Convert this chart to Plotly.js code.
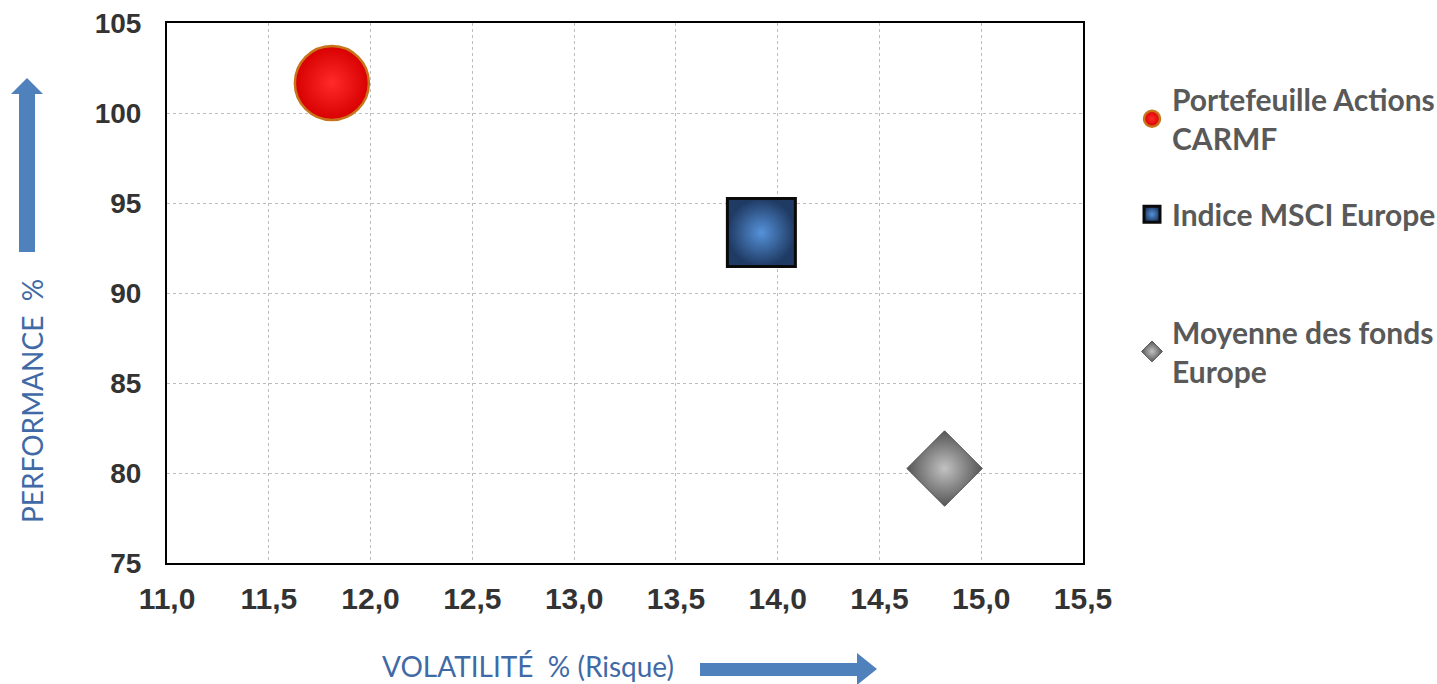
<!DOCTYPE html>
<html>
<head>
<meta charset="utf-8">
<script src="https://cdn.plot.ly/plotly-3.0.1.min.js"></script>
<style>html,body{margin:0;padding:0;background:#fff;}#chart{width:1437px;height:684px;}</style>
</head>
<body>
<div id="chart"></div>
<script>
// Data
const seriesNames = ["Portefeuille Actions<br>CARMF", "Indice MSCI Europe", "Moyenne des fonds<br>Europe"];
const volatility = [11.81, 13.92, 14.82];
const performance = [101.67, 93.36, 80.25];
const xTickVals = [11.0, 11.5, 12.0, 12.5, 13.0, 13.5, 14.0, 14.5, 15.0, 15.5];
const xTickText = ["11,0", "11,5", "12,0", "12,5", "13,0", "13,5", "14,0", "14,5", "15,0", "15,5"];
const yTickVals = [75, 80, 85, 90, 95, 100, 105];
const xTitle = "VOLATILITÉ  % (Risque)";
const yTitle = "PERFORMANCE  %";

// radial gradient: gradient.color at centre, marker.color at edge
const markerStyles = [
  {symbol: "circle", size: 74, color: "#d80000", gradient: {type: "radial", color: "#ff2a2a"}, line: {color: "#c8741a", width: 2.5}},
  {symbol: "square", size: 68, color: "#1f3a63", gradient: {type: "radial", color: "#5592da"}, line: {color: "#0a0a0a", width: 3}},
  {symbol: "diamond", size: 58, color: "#555555", gradient: {type: "radial", color: "#c2c2c2"}, line: {color: "#555555", width: 1}}
];
const legendIds = ["legend", "legend2", "legend3"];

const traces = seriesNames.map((name, i) => ({
  type: "scatter", mode: "markers",
  x: [volatility[i]], y: [performance[i]],
  name: name, legend: legendIds[i],
  marker: markerStyles[i],
  hoverinfo: "x+y+name"
}));

const legendFont = {family: "Lato, 'Open Sans', sans-serif", size: 30, color: "#595959", weight: "bold"};
function mkLegend(y) {
  return {x: 1.0535, xanchor: "left", y: y, yanchor: "top", font: legendFont, bgcolor: "rgba(0,0,0,0)", borderwidth: 0, itemsizing: "trace", itemwidth: 30};
}

const PX = (px) => (px - 167) / 916;
const PY = (py) => 1 - (py - 23) / 540;
function pathFrom(points) {
  return "M" + points.map(p => PX(p[0]) + "," + PY(p[1])).join(" L") + " Z";
}
const arrowColor = "#4f81bd";
const upArrow = pathFrom([[19, 252], [35, 252], [35, 94], [43, 94], [27, 78], [11, 94], [19, 94]]);
const rightArrow = pathFrom([[700, 663], [857, 663], [857, 653], [877, 669], [857, 685], [857, 676], [700, 676]]);

const layout = {
  width: 1437, height: 684,
  margin: {l: 167, r: 354, t: 23, b: 121, autoexpand: false},
  paper_bgcolor: "#ffffff", plot_bgcolor: "#ffffff",
  showlegend: true,
  legend: mkLegend(0.907),
  legend2: mkLegend(0.694),
  legend3: mkLegend(0.476),
  xaxis: {
    range: [11.0, 15.5], tickvals: xTickVals, ticktext: xTickText,
    showgrid: true, gridcolor: "#bdbdbd", griddash: "dot", gridwidth: 1,
    showline: true, linecolor: "#000", linewidth: 2, mirror: true,
    zeroline: false, ticks: "", ticklabelstandoff: 8,
    tickfont: {family: "'Liberation Sans', Arial, sans-serif", size: 30, color: "#333333", weight: "bold"}
  },
  yaxis: {
    range: [75, 105], tickvals: yTickVals,
    showgrid: true, gridcolor: "#bdbdbd", griddash: "dot", gridwidth: 1,
    showline: true, linecolor: "#000", linewidth: 2, mirror: true,
    zeroline: false, ticks: "", ticklabelstandoff: 18,
    tickfont: {family: "'Liberation Sans', Arial, sans-serif", size: 28, color: "#333333", weight: "bold"}
  },
  annotations: [
    {xref: "paper", yref: "paper", x: PX(528), y: PY(666), text: xTitle, showarrow: false, xanchor: "center", yanchor: "middle",
     font: {family: "Lato, 'Open Sans', sans-serif", size: 28, color: "#3f6aa6"}},
    {xref: "paper", yref: "paper", x: PX(32), y: PY(401), text: yTitle, showarrow: false, textangle: -90, xanchor: "center", yanchor: "middle",
     font: {family: "Lato, 'Open Sans', sans-serif", size: 28, color: "#3f6aa6"}}
  ],
  shapes: [
    {type: "path", xref: "paper", yref: "paper", path: upArrow, fillcolor: arrowColor, line: {width: 0}, layer: "above"},
    {type: "path", xref: "paper", yref: "paper", path: rightArrow, fillcolor: arrowColor, line: {width: 0}, layer: "above"}
  ]
};

Plotly.newPlot("chart", traces, layout, {displayModeBar: false, staticPlot: false});
</script>
</body>
</html>
